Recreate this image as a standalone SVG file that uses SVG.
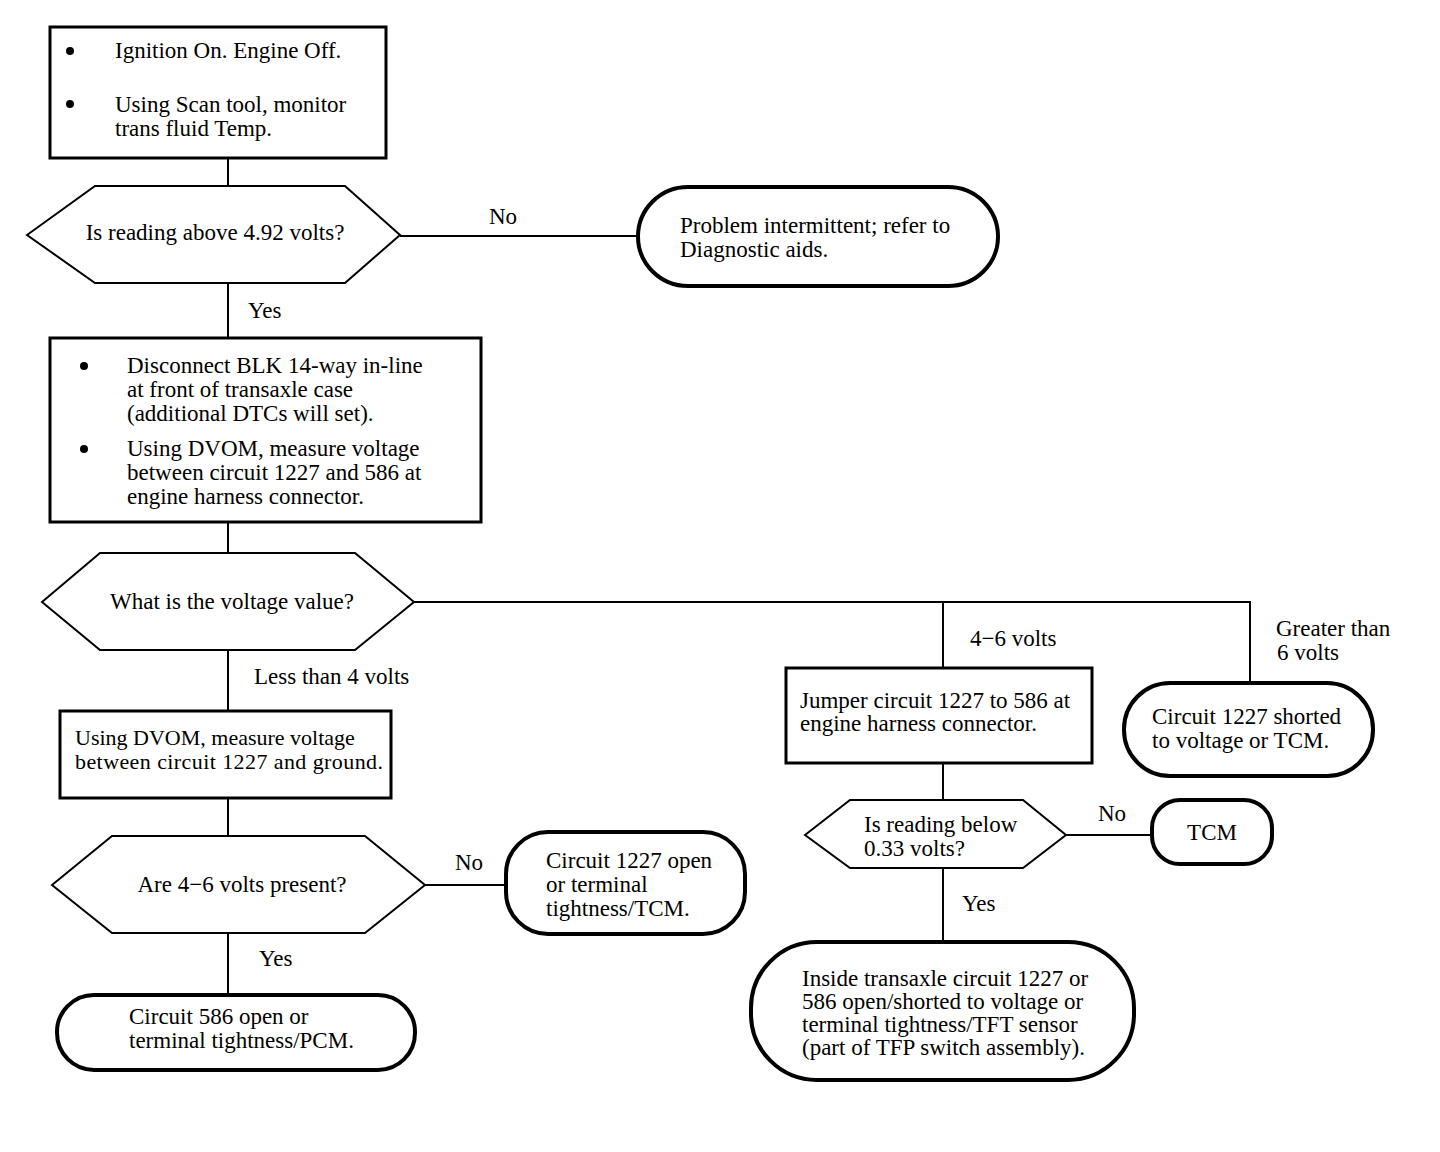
<svg xmlns="http://www.w3.org/2000/svg" width="1440" height="1152" viewBox="0 0 1440 1152">
<style>
text{font-family:"Liberation Serif","Times New Roman",serif;font-size:23px;fill:#000}
.box{fill:#fff;stroke:#000;stroke-width:3}
.term{fill:#fff;stroke:#000;stroke-width:4}
.hex{fill:#fff;stroke:#000;stroke-width:2}
.c{fill:none;stroke:#000;stroke-width:2}
.mid{text-anchor:middle}
.tight{font-size:22px}
</style>
<rect width="1440" height="1152" fill="#fff"/>
<g id="connectors">
<path class="c" d="M228 158V186M400 236H638M228 283V338M228 522V553M414 602H1250V683M943 602V668M228 650V711M228 798V836M425 885H506M228 933V995M943 763V800M1066 835H1152M943 868V942"/>
<text x="489" y="224">No</text>
<text x="248" y="318">Yes</text>
<text x="970" y="646">4−6 volts</text>
<text x="1276" y="636">Greater than</text>
<text x="1277" y="660"> 6 volts</text>
<text x="254" y="684">Less than 4 volts</text>
<text x="455" y="870">No</text>
<text x="259" y="966">Yes</text>
<text x="1098" y="821">No</text>
<text x="962" y="911">Yes</text>
</g>
<g id="n1">
<rect class="box" x="50" y="27" width="336" height="131"/>
<circle cx="70" cy="51" r="4"/>
<circle cx="70" cy="104" r="4"/>
<text x="115" y="58">Ignition On. Engine Off.</text>
<text x="115" y="112">Using Scan tool, monitor</text>
<text x="115" y="136">trans fluid Temp.</text>
</g>
<g id="d1">
<polygon class="hex" points="27,235 95,186 345,186 400,235 345,283 95,283"/>
<text x="215" y="240" class="mid">Is reading above 4.92 volts?</text>
</g>
<g id="t1">
<rect class="term" x="638" y="187" width="360" height="99" rx="50" ry="50"/>
<text x="680" y="233">Problem intermittent; refer to</text>
<text x="680" y="257">Diagnostic aids.</text>
</g>
<g id="n2">
<rect class="box" x="50" y="338" width="431" height="184"/>
<circle cx="84" cy="366" r="4"/>
<circle cx="84" cy="449" r="4"/>
<text x="127" y="373">Disconnect BLK 14-way in-line</text>
<text x="127" y="397">at front of transaxle case</text>
<text x="127" y="421">(additional DTCs will set).</text>
<text x="127" y="456">Using DVOM, measure voltage</text>
<text x="127" y="480">between circuit 1227 and 586 at</text>
<text x="127" y="504">engine harness connector.</text>
</g>
<g id="d2">
<polygon class="hex" points="42,602 100,553 355,553 414,602 355,650 100,650"/>
<text x="232" y="609" class="mid">What is the voltage value?</text>
</g>
<g id="n3">
<rect class="box" x="786" y="668" width="306" height="95"/>
<text x="800" y="708">Jumper circuit 1227 to 586 at</text>
<text x="800" y="731">engine harness connector.</text>
</g>
<g id="t2">
<rect class="term" x="1124" y="683" width="249" height="93" rx="46" ry="46"/>
<text x="1152" y="724">Circuit 1227 shorted</text>
<text x="1152" y="748">to voltage or TCM.</text>
</g>
<g id="n4">
<rect class="box" x="60" y="711" width="331" height="87"/>
<text class="tight" x="75" y="745">Using DVOM, measure voltage</text>
<text class="tight" x="75" y="769" textLength="308">between circuit 1227 and ground.</text>
</g>
<g id="d3">
<polygon class="hex" points="52,885 112,836 365,836 425,885 365,933 112,933"/>
<text x="242" y="892" class="mid">Are 4−6 volts present?</text>
</g>
<g id="t3">
<rect class="term" x="506" y="832" width="239" height="102" rx="42" ry="42"/>
<text x="546" y="868">Circuit 1227 open</text>
<text x="546" y="892">or terminal</text>
<text x="546" y="916">tightness/TCM.</text>
</g>
<g id="t4">
<rect class="term" x="57" y="995" width="358" height="75" rx="37" ry="37"/>
<text x="129" y="1024">Circuit 586 open or</text>
<text x="129" y="1048">terminal tightness/PCM.</text>
</g>
<g id="d4">
<polygon class="hex" points="805,835 850,800 1023,800 1066,835 1023,868 850,868"/>
<text x="864" y="832">Is reading below</text>
<text x="864" y="856">0.33 volts?</text>
</g>
<g id="t5">
<rect class="term" x="1152" y="800" width="120" height="64" rx="28" ry="28"/>
<text x="1212" y="840" class="mid">TCM</text>
</g>
<g id="t6">
<rect class="term" x="751" y="942" width="383" height="138" rx="66" ry="66"/>
<text x="802" y="986">Inside transaxle circuit 1227 or</text>
<text x="802" y="1009">586 open/shorted to voltage or</text>
<text x="802" y="1032">terminal tightness/TFT sensor</text>
<text x="802" y="1055">(part of TFP switch assembly).</text>
</g>
</svg>
